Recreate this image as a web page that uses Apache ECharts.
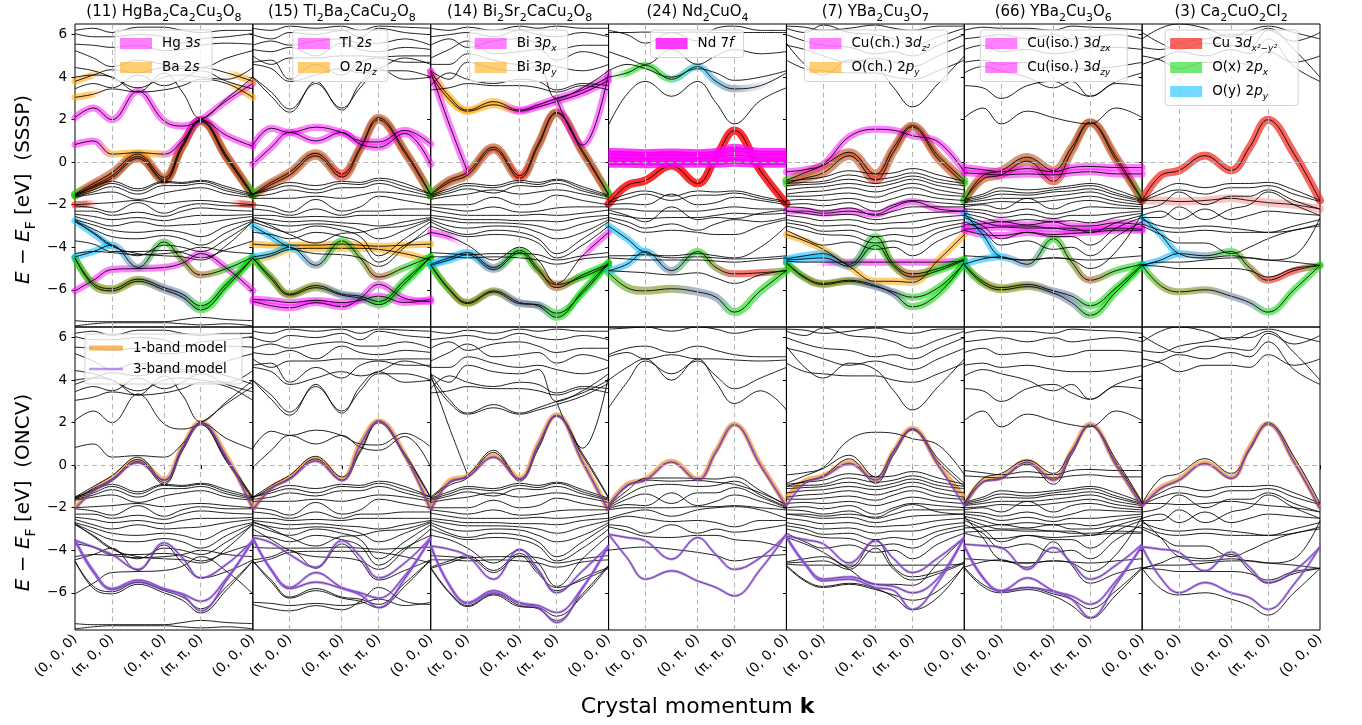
<!DOCTYPE html>
<html>
<head>
<meta charset="utf-8">
<script src="https://cdn.jsdelivr.net/npm/echarts@6/dist/echarts.min.js"></script>
<style>
html, body { margin: 0; padding: 0; background: #fff; }
#chart { width: 1362px; height: 725px; }
</style>
</head>
<body>
<div id="chart"></div>
<script>
// ---- k-path sampling (in units of pi along Γ–X–Y–M–Γ) ----
const K = [0, 0.5, 1, 1.707, 2.414, 2.914, 3.414, 4.121, 4.828];
const kTicks = [0, 1, 2.414, 3.414, 4.828];
const kTickLabels = ['(0, 0, 0)', '(π, 0, 0)', '(0, π, 0)', '(π, π, 0)', '(0, 0, 0)'];
const energyTicks = [-6, -4, -2, 0, 2, 4, 6];
const energyMin = -7.75;
const energyMax = 6.5;

const compoundTitles = [
  '(11) HgBa{s|2}Ca{s|2}Cu{s|3}O{s|8}',
  '(15) Tl{s|2}Ba{s|2}CaCu{s|2}O{s|8}',
  '(14) Bi{s|2}Sr{s|2}CaCu{s|2}O{s|8}',
  '(24) Nd{s|2}CuO{s|4}',
  '(7) YBa{s|2}Cu{s|3}O{s|7}',
  '(66) YBa{s|2}Cu{s|3}O{s|6}',
  '(3) Ca{s|2}CuO{s|2}Cl{s|2}'
];
const rowNames = ['SSSP', 'ONCV'];

// ---- HgBa2Ca2Cu3O8 ----
const hgBands = [
  [6.2, 6.3, 6.1, 6.35, 6.35, 6.2, 6.1, 6.2, 6.2],
  [6.05, 5.9, 5.9, 6.0, 5.9, 5.6, 5.8, 5.9, 6.05],
  [5.55, 5.5, 5.4, 5.5, 5.25, 5.3, 5.5, 5.6, 5.55],
  [5.25, 4.9, 4.5, 4.8, 4.6, 4.5, 4.45, 4.9, 5.25],
  [4.45, 4.3, 4.0, 3.5, 4.0, 4.1, 4.0, 3.9, 4.45],
  [4.0, 4.1, 4.0, 3.3, 4.2, 3.3, 2.05, 3.0, 4.0],
  [3.45, 3.7, 3.5, 4.1, 3.6, 3.9, 4.3, 3.8, 3.45],
  [-1.5, -1.2, -0.9, -1.25, -0.9, -0.95, -0.85, -1.15, -1.5],
  [-1.55, -1.3, -1.0, -1.35, -0.95, -1.0, -0.9, -1.25, -1.55],
  [-1.6, -1.4, -1.15, -1.5, -1.1, -1.1, -1.0, -1.35, -1.6],
  [-1.65, -1.5, -1.4, -1.75, -1.45, -1.3, -1.2, -1.5, -1.65],
  [-2.05, -2.15, -2.35, -1.9, -2.4, -2.1, -1.95, -2.05, -2.05],
  [-2.3, -2.3, -2.5, -2.35, -2.55, -2.3, -2.15, -2.25, -2.3],
  [-2.45, -2.55, -2.7, -2.6, -2.75, -2.6, -2.5, -2.5, -2.45],
  [-2.55, -2.8, -3.0, -2.8, -3.0, -2.95, -2.9, -2.7, -2.55],
  [-2.7, -2.95, -3.2, -3.3, -3.2, -3.3, -3.5, -3.0, -2.7],
  [-2.75, -3.15, -3.5, -3.6, -3.45, -3.6, -3.9, -3.3, -2.75],
  [-2.8, -3.3, -3.9, -4.4, -3.9, -4.0, -4.2, -3.6, -2.8],
  [-3.7, -3.85, -4.2, -4.2, -4.15, -4.25, -4.5, -4.1, -3.7],
  [-4.3, -4.2, -4.25, -4.35, -4.3, -4.2, -4.0, -4.2, -4.3],
  [-7.45, -7.5, -7.5, -7.5, -7.5, -7.4, -7.3, -7.4, -7.45],
  [-7.7, -7.6, -7.55, -7.55, -7.55, -7.6, -7.65, -7.6, -7.7]
];
const hgProj = [
  [-1.5, -1.0, -0.5, 0.38, -0.72, 0.85, 2.0, 0.3, -1.5],
  [-1.55, -1.1, -0.65, 0.27, -0.82, 0.75, 1.95, 0.22, -1.55],
  [-1.6, -1.15, -0.75, 0.18, -0.9, 0.68, 1.9, 0.15, -1.6],
  [-2.0, -1.95, -1.9, -1.8, -1.95, -1.85, -1.8, -1.9, -2.0],
  [-6.05, -5.55, -5.05, -5.0, -4.95, -4.75, -4.3, -5.0, -6.05],
  [0.83, 1.0, 0.38, 0.45, 0.38, 1.0, 2.0, 1.25, 0.75],
  [2.1, 2.55, 2.0, 3.35, 1.95, 1.7, 2.0, 2.9, 3.7],
  [3.8, 4.1, 4.35, 4.2, 4.45, 4.4, 4.45, 4.2, 3.8],
  [3.05, 3.2, 3.45, 3.3, 3.4, 3.6, 3.9, 3.7, 3.05],
  [-4.5, -5.7, -5.95, -5.5, -5.9, -6.2, -6.75, -5.7, -4.5],
  [-4.5, -5.8, -6.05, -5.6, -6.0, -6.35, -6.95, -5.85, -4.5],
  [-4.45, -4.2, -3.9, -4.95, -3.75, -4.6, -5.3, -5.0, -4.45],
  [-2.75, -3.35, -3.95, -4.3, -4.4, -4.45, -4.6, -3.9, -2.75]
];
const hgModel1 = [-2.0, -1.15, -0.6, 0.2, -0.65, 0.85, 2.02, 0.4, -2.0];
const hgModel3 = [
  [-2.05, -1.2, -0.7, 0.12, -0.7, 0.8, 1.98, 0.35, -2.05],
  [-3.53, -3.85, -4.2, -4.9, -3.65, -4.35, -5.3, -4.65, -3.53],
  [-3.55, -5.05, -5.85, -5.5, -5.85, -6.05, -6.4, -5.3, -3.55],
  [-3.5, -4.95, -5.8, -5.4, -5.8, -6.1, -6.85, -5.4, -3.5]
];

// ---- Tl2Ba2CaCu2O8 ----
const tlBands = [
  [4.0, 3.1, 2.35, 3.8, 2.45, 3.7, 4.4, 3.9, 4.0],
  [4.0, 3.3, 2.5, 3.7, 2.55, 3.5, 4.3, 4.3, 4.0],
  [4.6, 4.4, 3.8, 4.1, 4.4, 4.2, 4.4, 4.9, 4.6],
  [4.7, 4.8, 3.9, 4.6, 4.1, 4.7, 4.9, 4.7, 4.7],
  [5.0, 4.6, 4.9, 4.9, 5.0, 5.0, 4.95, 5.0, 5.0],
  [5.3, 5.2, 5.4, 5.0, 5.6, 5.3, 5.2, 5.4, 5.3],
  [5.5, 5.7, 5.5, 5.7, 5.8, 5.6, 5.6, 5.8, 5.5],
  [6.0, 5.8, 6.1, 6.0, 6.2, 5.9, 6.3, 6.1, 6.0],
  [6.3, 6.2, 6.4, 6.3, 6.4, 6.2, 6.4, 6.35, 6.3],
  [-1.5, -1.2, -0.95, -1.1, -0.9, -0.95, -0.75, -1.0, -1.5],
  [-1.5, -1.3, -1.1, -1.3, -1.0, -1.05, -0.85, -1.15, -1.5],
  [-1.6, -1.5, -1.3, -1.45, -1.2, -1.2, -1.0, -1.3, -1.6],
  [-1.7, -1.7, -1.7, -1.6, -1.7, -1.55, -1.4, -1.5, -1.7],
  [-2.0, -2.1, -2.35, -1.75, -2.3, -2.1, -1.6, -1.8, -2.0],
  [-2.2, -2.3, -2.5, -2.2, -2.5, -2.3, -2.3, -2.2, -2.2],
  [-2.5, -2.5, -2.6, -2.55, -2.6, -2.5, -2.5, -2.5, -2.5],
  [-2.6, -2.7, -2.8, -2.75, -2.85, -2.9, -3.0, -2.8, -2.6],
  [-2.7, -2.9, -3.0, -2.9, -3.0, -3.2, -3.6, -3.2, -2.7],
  [-2.8, -3.1, -3.3, -3.0, -3.2, -3.5, -4.4, -3.6, -2.8],
  [-3.3, -3.4, -3.6, -3.3, -3.5, -3.8, -4.7, -3.9, -3.3],
  [-2.65, -3.0, -3.4, -3.8, -3.35, -3.3, -3.1, -3.0, -2.65]
];
const tlProj = [
  [-1.5, -0.95, -0.47, 0.42, -0.55, 0.7, 2.09, 0.55, -1.5],
  [-1.55, -1.05, -0.6, 0.3, -0.7, 0.6, 2.0, 0.45, -1.55],
  [0.8, 1.6, 1.4, 1.65, 1.4, 1.0, 0.95, 1.5, 0.85],
  [-0.1, 0.7, 1.4, 1.0, 1.4, 0.85, 0.7, 1.35, -0.1],
  [-6.55, -6.75, -6.85, -6.6, -6.8, -6.4, -5.75, -6.4, -6.55],
  [-6.45, -6.5, -6.6, -6.5, -6.6, -6.5, -6.3, -6.6, -6.45],
  [-3.85, -3.9, -3.9, -3.9, -3.85, -3.9, -3.95, -3.9, -3.85],
  [-4.6, -4.4, -4.1, -4.05, -4.05, -4.05, -4.1, -4.3, -4.6],
  [-4.5, -5.4, -6.2, -5.8, -6.2, -6.3, -6.55, -5.55, -4.45],
  [-4.5, -5.5, -6.25, -5.9, -6.25, -6.4, -6.7, -5.7, -4.45],
  [-4.45, -4.3, -4.0, -4.85, -3.7, -4.5, -5.4, -4.95, -4.45],
  [-3.0, -3.5, -4.0, -4.3, -4.35, -4.5, -4.9, -4.0, -3.0]
];
const tlModel1 = [-2.07, -1.05, -0.58, 0.28, -0.66, 1.0, 2.09, 0.52, -2.07];
const tlModel3 = [
  [-2.1, -1.1, -0.65, 0.2, -0.72, 0.95, 2.05, 0.45, -2.1],
  [-3.4, -3.65, -4.2, -4.8, -3.55, -4.3, -5.3, -4.6, -3.4],
  [-3.45, -4.9, -5.75, -5.05, -5.75, -6.0, -6.25, -5.2, -3.45],
  [-3.4, -4.95, -5.8, -5.5, -5.8, -6.1, -6.7, -5.35, -3.4]
];

// ---- Bi2Sr2CaCu2O8 ----
const biBands = [
  [6.3, 6.2, 6.35, 6.2, 6.4, 6.3, 6.4, 6.3, 6.3],
  [5.9, 6.0, 6.1, 5.9, 6.2, 6.0, 5.9, 6.1, 5.9],
  [5.5, 5.8, 5.4, 5.7, 5.8, 5.6, 5.3, 5.5, 5.5],
  [4.9, 5.3, 5.7, 5.1, 5.2, 5.3, 4.8, 5.2, 4.9],
  [4.6, 4.6, 5.1, 4.8, 4.6, 4.7, 4.5, 4.3, 4.6],
  [4.3, 3.9, 4.7, 4.4, 4.3, 4.5, 3.0, 3.5, 4.3],
  [3.6, 4.2, 3.9, 3.7, 3.9, 3.8, 3.4, 3.7, 3.6],
  [3.4, 3.5, 3.7, 3.6, 3.6, 3.5, 3.3, 3.6, 3.4],
  [-1.55, -1.25, -1.0, -1.1, -0.85, -0.95, -0.8, -1.15, -1.55],
  [-1.6, -1.35, -1.1, -1.2, -0.95, -1.05, -0.85, -1.25, -1.6],
  [-1.65, -1.45, -1.25, -1.45, -1.1, -1.15, -1.0, -1.35, -1.65],
  [-1.75, -1.6, -1.5, -1.3, -1.5, -1.4, -1.3, -1.5, -1.75],
  [-2.0, -2.0, -2.0, -1.65, -2.0, -1.9, -1.55, -1.8, -2.0],
  [-2.1, -2.2, -2.3, -2.1, -2.35, -2.3, -2.15, -2.1, -2.1],
  [-2.25, -2.4, -2.5, -2.5, -2.5, -2.45, -2.5, -2.4, -2.25],
  [-2.5, -2.6, -2.7, -2.7, -2.75, -2.75, -2.8, -2.6, -2.5],
  [-2.6, -2.75, -2.85, -2.85, -2.9, -3.0, -3.2, -2.9, -2.6],
  [-2.7, -3.0, -3.1, -3.0, -3.05, -3.3, -3.6, -3.3, -2.7],
  [-2.8, -3.2, -3.4, -3.2, -3.3, -3.6, -4.3, -3.6, -2.8],
  [-3.0, -3.3, -3.5, -3.4, -3.5, -3.8, -4.5, -3.9, -3.0],
  [-4.25, -4.3, -4.35, -4.3, -4.3, -4.35, -4.6, -4.4, -4.25],
  [-4.45, -4.45, -4.5, -4.45, -4.5, -4.6, -4.8, -4.55, -4.45]
];
const biProj = [
  [-1.5, -0.85, -0.47, 0.7, -0.63, 0.86, 2.35, 0.55, -1.5],
  [-1.55, -0.95, -0.6, 0.6, -0.75, 0.75, 2.3, 0.45, -1.55],
  [4.25, 1.8, -0.45, null, null, null, null, null, null],
  [null, null, null, null, null, null, 3.0, 0.8, 4.2],
  [4.3, 3.1, 2.45, 2.85, 2.45, 2.7, 3.0, 3.4, 4.0],
  [4.1, 2.95, 2.4, 2.7, 2.4, 2.6, 2.85, 3.25, 3.85],
  [-3.3, -3.5, -3.9, -4.6, -4.0, -4.6, -5.7, -4.4, -3.3],
  [-4.8, -5.95, -6.6, -6.05, -6.6, -6.75, -7.3, -6.05, -4.7],
  [-4.85, -6.0, -6.65, -6.1, -6.65, -6.7, -7.1, -6.15, -4.75],
  [-4.8, -4.5, -4.25, -4.95, -4.15, -5.0, -5.9, -5.3, -4.8],
  [-4.85, -4.6, -4.35, -5.05, -4.25, -5.1, -5.75, -5.4, -4.85]
];
const biModel1 = [-2.07, -0.74, -0.5, 0.44, -0.61, 1.0, 2.37, 0.2, -2.15];
const biModel3 = [
  [-2.1, -0.8, -0.55, 0.38, -0.68, 0.95, 2.33, 0.15, -2.15],
  [-3.8, -3.95, -4.27, -5.36, -3.95, -4.9, -6.0, -4.97, -3.8],
  [-3.8, -5.6, -6.46, -5.9, -6.46, -6.6, -6.93, -5.75, -3.8],
  [-3.75, -5.65, -6.5, -6.0, -6.5, -6.7, -7.4, -5.8, -3.75]
];

// ---- Nd2CuO4 ----
const ndBands = [
  [6.2, 6.0, 5.6, 6.1, 5.7, 6.3, 6.4, 6.2, 6.2],
  [6.1, 6.1, 6.12, 6.1, 6.12, 6.1, 6.1, 6.1, 6.1],
  [5.2, 4.9, 4.6, 5.3, 4.6, 5.0, 5.3, 5.1, 5.2],
  [4.3, 4.6, 4.4, 4.0, 4.4, 4.2, 3.85, 4.0, 4.3],
  [1.75, 3.2, 3.8, 3.1, 3.8, 2.8, 1.8, 2.9, 3.5],
  [-1.85, -1.5, -1.35, -1.6, -1.35, -1.4, -1.35, -1.6, -1.85],
  [-1.9, -1.7, -1.5, -1.8, -1.55, -1.55, -1.45, -1.7, -1.9],
  [-2.0, -1.95, -2.0, -1.5, -2.0, -1.9, -1.65, -1.8, -2.0],
  [-2.2, -2.2, -2.3, -2.3, -2.3, -2.2, -2.1, -2.2, -2.2],
  [-2.25, -2.5, -2.8, -2.1, -2.7, -2.6, -2.65, -2.4, -2.25],
  [-2.4, -2.55, -2.65, -2.6, -2.6, -2.5, -2.4, -2.45, -2.4],
  [-2.6, -2.8, -3.1, -2.9, -3.2, -2.9, -2.7, -2.8, -2.6],
  [-2.7, -3.0, -3.3, -3.2, -3.3, -3.4, -3.4, -3.0, -2.7],
  [-4.4, -4.4, -4.35, -4.5, -4.45, -4.5, -4.55, -4.5, -4.4],
  [-4.5, -4.55, -4.6, -4.6, -4.6, -4.65, -4.7, -4.6, -4.5],
  [-5.1, -5.15, -5.2, -5.3, -5.2, -5.45, -5.7, -5.3, -5.1]
];
const ndProj = [
  [-1.96, -1.1, -0.86, -0.16, -1.0, 0.24, 1.49, -0.4, -1.96],
  [-5.2, -5.9, -6.05, -5.95, -6.1, -6.35, -7.05, -6.05, -5.1],
  [-5.1, -4.8, -4.2, -5.1, -4.2, -4.95, -5.25, -5.2, -5.1],
  [-3.0, -3.6, -4.25, -4.4, -4.3, -4.4, -4.5, -4.0, -3.0],
  [4.0, 4.2, 4.55, 3.9, 4.5, 3.8, 3.45, 3.6, 4.2]
];
const ndFBand = [
  [0.5, 0.48, 0.45, 0.48, 0.45, 0.5, 0.7, 0.5, 0.5],
  [0.35, 0.35, 0.33, 0.35, 0.33, 0.38, 0.52, 0.38, 0.35],
  [0.2, 0.2, 0.18, 0.2, 0.18, 0.22, 0.32, 0.22, 0.2],
  [0.05, 0.05, 0.03, 0.05, 0.05, 0.06, 0.12, 0.06, 0.05],
  [-0.1, -0.1, -0.12, -0.1, -0.1, -0.1, -0.05, -0.1, -0.1]
];
const ndOncvBands = [
  [6.4, 6.45, 6.5, 6.3, 6.5, 6.4, 6.2, 6.4, 6.4],
  [5.2, 5.5, 5.6, 5.3, 5.6, 5.4, 5.2, 5.1, 5.1],
  [5.1, 5.3, 5.0, 5.2, 5.0, 5.0, 4.95, 4.9, 4.95],
  [4.0, 4.6, 5.0, 4.0, 5.0, 3.9, 2.9, 3.5, 2.6],
  [2.7, 3.9, 4.9, 4.3, 4.9, 4.2, 3.6, 4.1, 4.6],
  [-1.9, -1.2, -0.62, -0.6, -0.62, -0.65, -0.55, -1.2, -1.9],
  [-1.85, -1.0, -0.7, -0.75, -0.72, -0.8, -0.9, -1.3, -1.85],
  [-1.95, -1.4, -1.0, -0.9, -1.0, -0.95, -0.75, -1.4, -1.95],
  [-2.0, -1.6, -1.35, -1.8, -1.3, -1.3, -1.05, -1.5, -2.0],
  [-2.05, -1.85, -1.9, -1.3, -1.9, -1.7, -1.4, -1.7, -2.05],
  [-2.1, -2.0, -2.0, -2.0, -1.95, -1.95, -1.9, -2.0, -2.1],
  [-2.5, -2.25, -2.1, -2.4, -2.1, -2.0, -1.95, -2.1, -2.5],
  [-2.6, -2.4, -2.5, -2.65, -2.6, -2.7, -2.9, -2.6, -2.6],
  [-2.8, -2.9, -3.2, -2.8, -3.2, -3.0, -3.15, -3.0, -2.8],
  [-2.9, -3.1, -3.35, -3.4, -3.3, -3.3, -3.5, -3.6, -3.9],
  [-4.0, -3.9, -3.85, -3.95, -4.1, -4.25, -4.5, -4.3, -4.2]
];
const ndOncvModel1 = [-1.91, -0.9, -0.66, 0.2, -0.66, 0.67, 1.93, 0.05, -1.91];
const ndOncvModel3 = [
  [-1.95, -0.95, -0.7, 0.15, -0.7, 0.62, 1.9, 0.0, -1.95],
  [-3.25, -3.4, -3.56, -4.42, -3.4, -4.2, -4.9, -4.35, -3.25],
  [-3.25, -4.35, -5.36, -4.97, -5.44, -5.75, -6.15, -4.9, -3.25]
];

// ---- YBa2Cu3O7 ----
const y7Bands = [
  [6.4, 6.35, 6.2, 6.3, 6.45, 6.3, 6.2, 6.4, 6.4],
  [6.3, 6.1, 6.45, 6.1, 6.0, 5.8, 5.5, 5.9, 6.3],
  [6.0, 5.7, 5.5, 5.4, 5.1, 5.2, 5.0, 5.5, 6.0],
  [5.5, 5.3, 5.0, 4.7, 4.9, 4.7, 4.5, 5.0, 5.5],
  [5.6, 4.6, 4.1, 4.8, 4.5, 3.5, 2.6, 3.7, 5.0],
  [4.8, 4.4, 4.3, 4.2, 4.2, 4.0, 3.9, 4.3, 4.8],
  [-0.9, -0.8, -0.7, -0.4, -0.55, -0.5, -0.3, -0.6, -0.9],
  [-1.0, -0.95, -0.9, -0.6, -0.8, -0.7, -0.5, -0.8, -1.0],
  [-1.1, -1.05, -1.0, -0.8, -1.0, -0.85, -0.65, -0.95, -1.1],
  [-1.3, -1.2, -1.15, -1.0, -1.15, -1.0, -0.8, -1.1, -1.3],
  [-1.5, -1.4, -1.35, -1.2, -1.4, -1.2, -1.0, -1.3, -1.5],
  [-1.6, -1.6, -1.55, -1.45, -1.65, -1.4, -1.2, -1.5, -1.6],
  [-1.8, -1.75, -1.8, -1.7, -1.9, -1.7, -1.5, -1.7, -1.8],
  [-2.0, -1.95, -2.05, -1.9, -2.3, -2.0, -1.8, -1.9, -2.0],
  [-2.1, -2.15, -2.3, -2.15, -2.5, -2.3, -2.1, -2.1, -2.1],
  [-2.3, -2.4, -2.5, -2.45, -2.7, -2.55, -2.4, -2.35, -2.3],
  [-2.5, -2.6, -2.75, -2.7, -2.9, -2.85, -2.8, -2.6, -2.5],
  [-2.7, -2.85, -3.0, -2.95, -3.2, -3.1, -3.1, -2.85, -2.7],
  [-2.85, -3.0, -3.25, -3.2, -3.5, -3.4, -3.5, -3.1, -2.85],
  [-3.0, -3.2, -3.4, -3.45, -3.8, -3.7, -3.9, -3.3, -3.0],
  [-3.2, -3.6, -3.9, -3.75, -4.1, -4.0, -4.4, -3.7, -3.2]
];
const y7Proj = [
  [-0.85, -0.5, -0.15, 0.47, -0.55, 0.7, 1.72, 0.3, -0.85],
  [-1.0, -0.75, -0.5, 0.3, -0.85, 0.5, 1.65, 0.15, -1.0],
  [-0.45, -0.35, -0.1, 1.2, 1.55, 1.5, 1.25, 0.95, -0.45],
  [-2.3, -2.3, -2.4, -2.3, -2.45, -2.1, -1.85, -2.2, -2.3],
  [-4.65, -4.7, -4.7, -4.7, -4.7, -4.7, -4.7, -4.7, -4.65],
  [-3.4, -3.7, -4.1, -4.9, -5.6, -5.6, -5.65, -4.6, -3.4],
  [-4.7, -5.4, -5.7, -5.55, -5.8, -6.2, -6.8, -6.2, -4.7],
  [-4.75, -5.45, -5.75, -5.6, -5.85, -6.1, -6.35, -5.9, -4.75],
  [-4.55, -4.4, -4.3, -4.8, -3.5, -4.8, -5.25, -5.0, -4.55],
  [-4.6, -4.55, -4.5, -4.9, -3.9, -4.9, -5.4, -5.1, -4.6]
];
const y7Model1 = [-1.52, -0.74, -0.5, 0.13, -0.66, 0.67, 1.74, 0.05, -1.52];
const y7Model3 = [
  [-1.91, -0.85, -0.55, 0.08, -0.7, 0.62, 1.7, 0.0, -1.91],
  [-3.33, -3.5, -3.7, -4.6, -3.56, -4.4, -5.05, -4.35, -3.4],
  [-3.4, -4.66, -5.44, -5.36, -5.75, -5.9, -6.78, -5.5, -3.4],
  [-3.35, -4.6, -5.35, -5.25, -5.6, -5.7, -6.0, -5.3, -3.35]
];

// ---- YBa2Cu3O6 ----
const y6Bands = [
  [2.1, 2.55, 1.8, 2.4, 2.1, 1.9, 1.8, 2.55, 2.1],
  [3.6, 3.5, 3.0, 3.6, 3.8, 3.4, 3.1, 3.7, 3.6],
  [4.2, 4.5, 4.3, 4.0, 3.5, 3.8, 3.1, 3.8, 4.2],
  [4.7, 4.8, 4.6, 4.7, 4.5, 4.4, 4.4, 4.5, 4.7],
  [5.3, 5.5, 5.2, 5.3, 5.1, 5.2, 5.4, 5.4, 5.3],
  [5.8, 5.9, 6.0, 5.8, 6.0, 5.8, 5.9, 6.0, 5.8],
  [6.2, 6.35, 6.3, 6.3, 6.2, 6.4, 6.35, 6.3, 6.2],
  [-1.75, -1.5, -1.2, -1.3, -1.2, -1.1, -1.0, -1.3, -1.75],
  [-1.8, -1.6, -1.35, -1.45, -1.3, -1.2, -1.1, -1.45, -1.8],
  [-1.85, -1.7, -1.5, -1.55, -1.4, -1.35, -1.25, -1.55, -1.85],
  [-1.9, -1.8, -1.7, -1.7, -1.6, -1.5, -1.4, -1.7, -1.9],
  [-2.0, -1.95, -1.85, -1.9, -1.8, -1.7, -1.6, -1.85, -2.0],
  [-2.1, -2.0, -2.2, -1.7, -2.2, -1.9, -1.8, -2.0, -2.1],
  [-2.2, -2.25, -2.4, -2.2, -2.45, -2.3, -2.1, -2.15, -2.2],
  [-2.3, -2.4, -2.6, -2.45, -2.65, -2.5, -2.5, -2.4, -2.3],
  [-2.4, -2.6, -2.8, -2.7, -2.8, -2.75, -2.85, -2.6, -2.4],
  [-2.5, -2.8, -3.0, -3.0, -3.1, -3.1, -3.3, -2.85, -2.5],
  [-2.6, -3.0, -3.6, -3.3, -3.5, -3.5, -3.9, -3.1, -2.6],
  [-2.8, -3.2, -3.9, -3.7, -4.1, -4.0, -4.4, -3.5, -2.8],
  [-4.4, -4.45, -4.5, -4.6, -4.5, -4.55, -4.6, -4.5, -4.4]
];
const y6Proj = [
  [-1.8, -0.63, -0.39, 0.24, -0.39, 0.7, 1.88, 0.24, -1.75],
  [-1.8, -0.8, -0.6, 0.05, -0.9, 0.5, 1.85, 0.1, -1.8],
  [-0.25, -0.35, -0.45, -0.3, -0.45, -0.25, -0.2, -0.25, -0.25],
  [-0.5, -0.55, -0.6, -0.55, -0.6, -0.5, -0.45, -0.55, -0.55],
  [-2.95, -2.9, -2.8, -2.95, -2.8, -3.0, -3.0, -2.85, -2.95],
  [-3.15, -3.1, -3.05, -3.1, -3.1, -3.2, -3.2, -3.1, -3.15],
  [-3.2, -3.4, -3.45, -3.3, -3.4, -3.35, -3.3, -3.2, -3.2],
  [-4.8, -5.6, -5.9, -5.75, -6.05, -6.3, -6.75, -5.9, -4.8],
  [-4.85, -5.7, -6.0, -5.85, -6.15, -6.6, -7.2, -6.1, -4.85],
  [-4.8, -4.55, -4.45, -4.8, -3.6, -4.7, -5.55, -5.1, -4.8],
  [-2.4, -3.4, -4.45, -4.6, -4.5, -4.6, -5.0, -4.2, -2.4]
];
const y6Model1 = [-1.91, -0.74, -0.58, 0.2, -0.66, 0.67, 1.93, 0.05, -1.91];
const y6Model3 = [
  [-1.95, -0.8, -0.63, 0.14, -0.7, 0.62, 1.9, 0.0, -1.95],
  [-3.72, -3.78, -3.87, -4.9, -3.87, -4.6, -5.36, -4.7, -3.72],
  [-3.8, -5.29, -5.9, -5.3, -5.9, -6.15, -6.54, -5.44, -3.8],
  [-3.78, -5.25, -5.95, -5.75, -5.95, -6.3, -7.17, -5.6, -3.78]
];

// ---- Ca2CuO2Cl2 ----
const ccBands = [
  [6.1, 5.6, 5.3, 5.6, 5.5, 5.4, 6.2, 5.7, 6.1],
  [5.0, 4.8, 4.4, 4.7, 4.7, 4.6, 5.2, 4.7, 5.0],
  [5.8, 6.3, 6.5, 6.3, 5.9, 6.2, 6.4, 6.1, 5.8],
  [5.4, 5.3, 5.6, 5.8, 6.0, 6.0, 6.3, 5.3, 4.0],
  [4.6, 4.9, 5.2, 5.0, 5.3, 5.1, 5.8, 4.5, 3.8],
  [-1.8, -1.3, -1.0, -1.2, -1.0, -1.0, -0.95, -1.3, -1.8],
  [-1.85, -1.5, -1.3, -1.5, -1.2, -1.2, -1.1, -1.5, -1.85],
  [-2.2, -2.0, -1.4, -2.0, -1.6, -1.6, -1.3, -1.8, -2.2],
  [-2.6, -2.6, -2.1, -2.7, -2.2, -2.0, -1.4, -2.0, -2.5],
  [-2.5, -2.3, -2.7, -2.2, -2.7, -2.5, -2.3, -2.4, -2.5],
  [-2.7, -3.0, -3.1, -3.0, -3.1, -3.2, -3.3, -3.0, -2.7],
  [-2.9, -3.2, -3.3, -3.2, -3.3, -3.3, -3.3, -3.2, -2.9],
  [-3.0, -3.4, -3.8, -3.8, -4.3, -4.0, -3.6, -3.2, -3.0],
  [-4.85, -4.7, -4.7, -4.6, -4.5, -4.5, -4.6, -4.7, -4.85],
  [-4.85, -4.9, -5.0, -5.0, -5.0, -5.1, -5.4, -5.0, -4.85]
];
const ccProj = [
  [-1.8, -0.63, -0.39, 0.31, -0.39, 0.7, 2.0, 0.4, -1.8],
  [-1.8, -1.8, -1.85, -1.8, -1.7, -1.8, -1.9, -2.0, -2.2],
  [-4.85, -5.8, -6.1, -6.0, -6.3, -6.6, -7.05, -6.0, -4.85],
  [-4.85, -4.6, -4.3, -4.4, -4.2, -4.95, -5.55, -5.1, -4.85],
  [-2.6, -3.4, -4.3, -4.5, -4.4, -4.5, -4.6, -4.4, -2.6]
];
const ccModel1 = [-1.91, -1.05, -0.66, 0.13, -0.58, 0.83, 1.96, 0.2, -2.0];
const ccModel3 = [
  [-1.95, -1.1, -0.7, 0.08, -0.62, 0.78, 1.93, 0.15, -2.05],
  [-3.84, -3.95, -4.1, -4.97, -4.08, -4.8, -5.52, -4.97, -3.84],
  [-3.84, -5.29, -6.0, -5.52, -6.0, -6.23, -6.78, -5.6, -3.84]
];

// ---------------- styling ----------------
const FONT = 'DejaVu Sans';
const P = {
  mag: 'rgba(255,0,255,0.5)',
  magS: 'rgba(255,0,255,0.78)',
  ora: 'rgba(255,165,0,0.55)',
  red: 'rgba(240,30,20,0.6)',
  redS: 'rgba(255,0,0,0.82)',
  redC: 'rgba(245,35,25,0.7)',
  redF: 'rgba(240,40,40,0.28)',
  grn: 'rgba(0,215,0,0.55)',
  blu: 'rgba(0,185,255,0.55)',
  brn: 'rgba(195,85,35,0.62)',
  olv: 'rgba(125,145,20,0.6)',
  gbl: 'rgba(105,125,165,0.55)',
  none: 'rgba(255,255,255,0)'
};
const G = {
  cu: [[0, P.grn], [0.07, P.brn], [0.93, P.brn], [1, P.grn]],
  cuY: [[0, P.grn], [0.07, P.brn], [0.44, P.brn], [0.5, P.red], [0.56, P.brn], [0.93, P.brn], [1, P.grn]],
  oLow: [[0, P.grn], [0.15, P.olv], [0.32, P.olv], [0.5, P.gbl], [0.6, P.gbl], [0.7, P.grn], [1, P.grn]],
  oNb: [[0, P.blu], [0.2, P.blu], [0.35, P.gbl], [0.5, P.grn], [0.7, P.brn], [0.85, P.grn], [1, P.grn]],
  oNbR: [[0, P.blu], [0.2, P.blu], [0.35, P.gbl], [0.5, P.grn], [0.7, P.red], [0.85, P.red], [1, P.grn]],
  oDiag: [[0, P.blu], [0.2, P.blu], [0.3, P.none], [1, P.none]],
  edgeMag: [[0, P.mag], [0.12, P.mag], [0.22, P.none], [0.78, P.none], [0.88, P.mag], [1, P.mag]],
  edgeOra: [[0, P.ora], [0.1, P.ora], [0.2, P.none], [0.8, P.none], [0.9, P.ora], [1, P.ora]],
  edgeRed: [[0, P.red], [0.08, P.red], [0.16, P.none], [0.84, P.none], [0.92, P.red], [1, P.red]],
  magOra: [[0, P.mag], [0.14, P.mag], [0.22, P.ora], [0.45, P.ora], [0.55, P.mag], [1, P.mag]],
  oraMag: [[0, P.mag], [0.1, P.ora], [0.4, P.ora], [0.5, P.mag], [1, P.mag]],
  ndUp: [[0, P.none], [0.12, P.grn], [0.3, P.grn], [0.5, P.blu], [0.7, P.gbl], [1, P.none]],
  chain: [[0, P.none], [0.15, P.none], [0.25, P.mag], [1, P.mag]]
};

const columns = [
  { bands: hgBands, proj: hgProj, projStyle: [G.cu, G.cu, G.cu, G.edgeRed, P.mag, G.magOra, P.mag, G.edgeOra, G.edgeOra, G.oLow, G.oLow, G.oNb, G.oDiag],
    m1: hgModel1, m3: hgModel3 },
  { bands: tlBands, proj: tlProj, projStyle: [G.cuY, G.cuY, P.mag, P.mag, P.mag, P.mag, P.ora, P.ora, G.oLow, G.oLow, G.oNb, G.oDiag],
    m1: tlModel1, m3: tlModel3 },
  { bands: biBands, proj: biProj, projStyle: [G.cuY, G.cuY, P.mag, P.mag, G.oraMag, G.oraMag, G.edgeMag, G.oLow, G.oLow, G.oNb, G.oNb],
    m1: biModel1, m3: biModel3 },
  { bands: ndBands, proj: ndProj, projStyle: [P.redS, G.oLow, G.oNbR, G.oDiag, G.ndUp],
    fband: ndFBand, bottomBands: ndOncvBands, m1: ndOncvModel1, m3: ndOncvModel3 },
  { bands: y7Bands, proj: y7Proj, projStyle: [G.cu, G.cuY, P.mag, P.mag, G.chain, P.ora, G.oLow, G.oLow, G.oNb, G.oNb],
    m1: y7Model1, m3: y7Model3 },
  { bands: y6Bands, proj: y6Proj, projStyle: [G.cu, G.cuY, P.mag, P.mag, P.mag, P.mag, P.mag, G.oLow, G.oLow, G.oNb, G.oDiag],
    m1: y6Model1, m3: y6Model3 },
  { bands: ccBands, proj: ccProj, projStyle: [P.redC, P.redF, G.oLow, G.oNbR, G.oDiag],
    m1: ccModel1, m3: ccModel3 }
];

// legend boxes inside the SSSP panels: offset from panel left, width, entries
const legendDefs = [
  { dx: 40, w: 97, items: [['Hg 3{i|s}', P.mag], ['Ba 2{i|s}', P.ora]] },
  { dx: 40, w: 95, items: [['Tl 2{i|s}', P.mag], ['O 2{i|p}{si|z}', P.ora]] },
  { dx: 39, w: 98, items: [['Bi 3{i|p}{si|x}', P.mag], ['Bi 3{i|p}{si|y}', P.ora]] },
  { dx: 42, w: 93, items: [['Nd 7{i|f}', P.magS]] },
  { dx: 18, w: 143, items: [['Cu(ch.) 3{i|d}{si|z²}', P.mag], ['O(ch.) 2{i|p}{si|y}', P.ora]] },
  { dx: 16, w: 147, items: [['Cu(iso.) 3{i|d}{si|zx}', P.mag], ['Cu(iso.) 3{i|d}{si|zy}', P.mag]] },
  { dx: 23, w: 133, items: [['Cu 3{i|d}{si|x²−y²}', P.redC], ['O(x) 2{i|p}{si|x}', P.grn], ['O(y) 2{i|p}{si|y}', P.blu]] }
];
const MODEL1_COLOR = 'rgba(245,155,45,0.72)';
const MODEL3_COLOR = 'rgba(150,85,230,0.62)';

// ---------------- build ----------------
const chart = echarts.init(document.getElementById('chart'));
const panelLeft = 75, panelRight = 1320;
const colW = (panelRight - panelLeft) / 7;
const rowTop = [24, 327];
const rowH = 303;

const grids = [], xAxes = [], yAxes = [], series = [], titles = [], graphics = [];

function richSet(size) {
  const sub = Math.round(size * 0.7);
  return {
    i: { fontStyle: 'italic', fontSize: size, fontFamily: FONT, color: '#000' },
    b: { fontWeight: 'bold', fontSize: size, fontFamily: FONT, color: '#000' },
    s: { fontSize: sub, lineHeight: sub, verticalAlign: 'bottom', fontFamily: FONT, color: '#000' },
    si: { fontSize: sub, lineHeight: sub, verticalAlign: 'bottom', fontStyle: 'italic', fontFamily: FONT, color: '#000' }
  };
}
function addText(text, x, cy, size, align) {
  const lh = Math.round(size * 1.45);
  titles.push({
    text, left: x, top: cy - lh / 2, textAlign: align, padding: 0, z: 120,
    textStyle: { fontSize: size, fontFamily: FONT, fontWeight: 'normal', color: '#000', lineHeight: lh, rich: richSet(size) }
  });
}
function paint(spec) {
  if (typeof spec === 'string') return spec;
  return new echarts.graphic.LinearGradient(0, 0, 1, 0, spec.map(([o, c]) => ({ offset: o, color: c })));
}
function toPoints(vals) {
  const out = [];
  vals.forEach((v, i) => { if (v !== null) out.push([K[i], v]); });
  return out;
}
function addBand(gi, vals, lineStyle, z) {
  series.push({
    type: 'line', xAxisIndex: gi, yAxisIndex: gi, data: toPoints(vals),
    smooth: 0.4, symbol: 'none', silent: true, z, lineStyle, animation: false
  });
}
function tickLabel(v) {
  const i = kTicks.findIndex(t => Math.abs(t - v) < 1e-6);
  return i >= 0 ? kTickLabels[i] : '';
}
const BLACK = { color: 'rgba(0,0,0,0.88)', width: 1 };

for (let row = 0; row < 2; row++) {
  for (let col = 0; col < 7; col++) {
    const gi = row * 7 + col;
    grids.push({
      left: panelLeft + col * colW, top: rowTop[row], width: colW, height: rowH,
      show: true, borderColor: '#000', borderWidth: 1, backgroundColor: 'transparent'
    });
    // the closing Γ label of a panel coincides with the opening one of the next
    const labelValues = col < 6 ? kTicks.slice(0, -1) : kTicks;
    xAxes.push({
      type: 'value', gridIndex: gi, min: 0, max: kTicks[kTicks.length - 1],
      axisLine: { show: false }, splitLine: { show: false },
      axisTick: { show: row === 1, customValues: kTicks, length: 4, lineStyle: { color: '#000' } },
      axisLabel: {
        show: row === 1, customValues: labelValues, formatter: tickLabel, rotate: 45,
        fontSize: 13.5, fontFamily: FONT, color: '#000', margin: 7
      }
    });
    const yAxis = {
      type: 'value', gridIndex: gi, min: energyMin, max: energyMax,
      axisLine: { show: false }, splitLine: { show: false },
      axisTick: { show: true, customValues: energyTicks, length: 3.5, lineStyle: { color: '#000' } },
      axisLabel: {
        show: col === 0, customValues: energyTicks, fontSize: 13.5, fontFamily: FONT, color: '#000', margin: 8,
        formatter: v => (v < 0 ? '−' + (-v) : String(v))
      }
    };
    if (col === 0) {
      Object.assign(yAxis, {
        name: '{i|E} − {i|E}{s|F} [eV]  (' + rowNames[row] + ')',
        nameLocation: 'middle', nameGap: 37, nameRotate: 90,
        nameTextStyle: {
          fontSize: 20, fontFamily: FONT, color: '#000', lineHeight: 28,
          padding: [0, 28, 0, 0], rich: richSet(20)
        }
      });
    }
    yAxes.push(yAxis);

    // dashed guides at the inner high-symmetry points and at the Fermi level
    series.push({
      type: 'line', xAxisIndex: gi, yAxisIndex: gi, data: [], silent: true, z: 1, animation: false,
      markLine: {
        silent: true, symbol: 'none', animation: false, label: { show: false },
        lineStyle: { type: [5, 3.5], color: '#b4b4b4', width: 1.1 },
        emphasis: { disabled: true },
        data: kTicks.slice(1, -1).map(k => ({ xAxis: k })).concat([{ yAxis: 0 }])
      }
    });

    const c = columns[col];
    if (row === 0) {
      c.proj.forEach((vals, j) => addBand(gi, vals, { color: paint(c.projStyle[j]), width: j < 2 ? 8 : 7, cap: 'round' }, 2));
      c.bands.forEach(vals => addBand(gi, vals, BLACK, 3));
      c.proj.forEach(vals => addBand(gi, vals, BLACK, 3));
      if (c.fband) {
        c.fband.forEach(vals => addBand(gi, vals, BLACK, 3));
        c.fband.forEach(vals => addBand(gi, vals, { color: P.magS, width: 7 }, 4));
      }
    } else {
      addBand(gi, c.m1, { color: MODEL1_COLOR, width: 5 }, 2);
      const black = c.bottomBands ? c.bottomBands : c.bands.concat(c.proj);
      black.forEach(vals => addBand(gi, vals, BLACK, 3));
      c.m3.forEach(vals => addBand(gi, vals, BLACK, 3));
      c.m3.forEach(vals => addBand(gi, vals, { color: MODEL3_COLOR, width: 2.6 }, 4));
    }
  }
}

// column headers
compoundTitles.forEach((t, col) => addText(t, panelLeft + col * colW + colW / 2, 12.5, 15, 'center'));

// legends of projected orbitals
legendDefs.forEach((d, col) => {
  const bx = panelLeft + col * colW + d.dx;
  const by = 30;
  const n = d.items.length;
  const bh = 27.5 + 24 * (n - 1);
  graphics.push({ type: 'rect', z: 100, shape: { x: bx, y: by, width: d.w, height: bh, r: 3 },
    style: { fill: 'rgba(255,255,255,0.8)', stroke: '#d2d2d2', lineWidth: 1 } });
  d.items.forEach(([label, color], j) => {
    const cy = by + 13.5 + 24 * j;
    graphics.push({ type: 'rect', z: 101, shape: { x: bx + 5, y: cy - 5.5, width: 32, height: 11 },
      style: { fill: color } });
    addText(label, bx + 47, cy, 13.5, 'left');
  });
});

// model legend in the first ONCV panel
(function () {
  const bx = 85, by = 334, bw = 157, bh = 50;
  graphics.push({ type: 'rect', z: 100, shape: { x: bx, y: by, width: bw, height: bh, r: 3 },
    style: { fill: 'rgba(255,255,255,0.8)', stroke: '#d2d2d2', lineWidth: 1 } });
  graphics.push({ type: 'line', z: 101, shape: { x1: bx + 4, y1: by + 14, x2: bx + 38, y2: by + 14 },
    style: { stroke: MODEL1_COLOR, lineWidth: 5 } });
  graphics.push({ type: 'line', z: 101, shape: { x1: bx + 4, y1: by + 35, x2: bx + 38, y2: by + 35 },
    style: { stroke: MODEL3_COLOR, lineWidth: 2.6 } });
  addText('1-band model', bx + 48, by + 14, 13.5, 'left');
  addText('3-band model', bx + 48, by + 35, 13.5, 'left');
})();

// shared x-axis title
addText('Crystal momentum {b|k}', (panelLeft + panelRight) / 2, 707, 22, 'center');

chart.setOption({
  animation: false,
  backgroundColor: '#fff',
  grid: grids,
  xAxis: xAxes,
  yAxis: yAxes,
  title: titles,
  graphic: { elements: graphics },
  series
});
</script>
</body>
</html>
